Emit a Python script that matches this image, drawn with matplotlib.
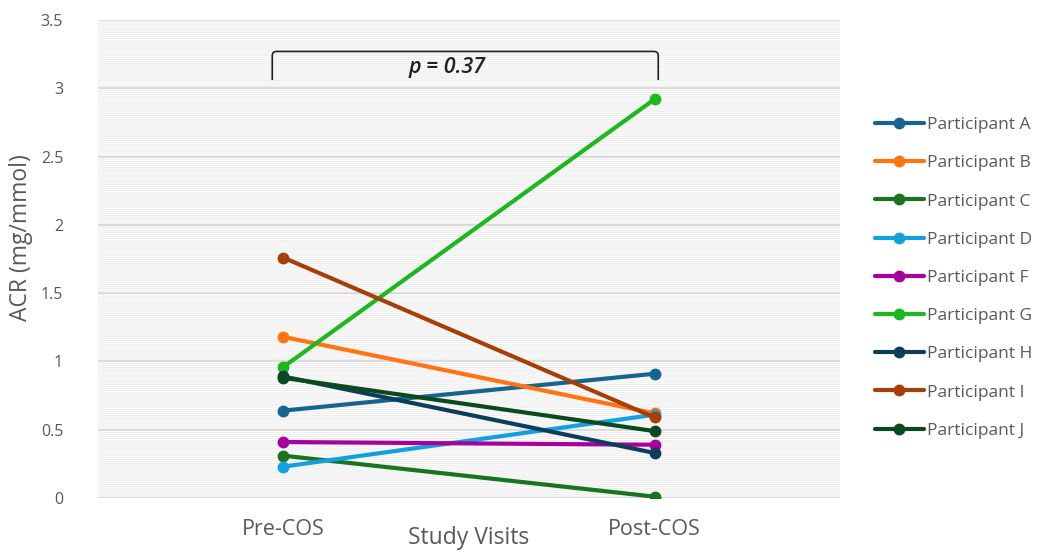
import matplotlib
matplotlib.use("Agg")
import matplotlib.pyplot as plt
from matplotlib.path import Path
from matplotlib.patches import PathPatch, Rectangle

visits = ["Pre-COS", "Post-COS"]
participants = ["Participant A", "Participant B", "Participant C", "Participant D",
                "Participant F", "Participant G", "Participant H", "Participant I",
                "Participant J"]
pre_cos = [0.64, 1.18, 0.31, 0.23, 0.41, 0.96, 0.89, 1.76, 0.88]
post_cos = [0.91, 0.62, 0.01, 0.61, 0.39, 2.92, 0.33, 0.59, 0.49]
colors = ["#186490", "#FF7410", "#19731F", "#12A1E0", "#A8009E",
          "#1DB81D", "#0C3E5C", "#A63F05", "#0B4A1C"]
yticks = [0, 0.5, 1, 1.5, 2, 2.5, 3, 3.5]
ytick_labels = ["0", "0.5", "1", "1.5", "2", "2.5", "3", "3.5"]
p_label = "p = 0.37"

plt.rcParams['font.family'] = ['Open Sans', 'DejaVu Sans']
plt.rcParams['hatch.color'] = "#e9e9e9"
plt.rcParams['hatch.linewidth'] = 0.5
text_gray = "#595959"

fig = plt.figure(figsize=(10.41, 5.5), dpi=100)
ax = fig.add_axes([0.094, 0.0945, 0.713, 0.8691])

# Finely hatched plot area background
ax.set_facecolor("#fbfbfb")
bg = Rectangle((0, 0), 1, 1, transform=ax.transAxes, facecolor="none",
               edgecolor="#e9e9e9", linewidth=0, hatch="--------", zorder=0)
ax.add_patch(bg)

ax.set_ylim(0, 3.5)
ax.set_xlim(-0.5, 1.5)
ax.set_yticks(yticks)
ax.set_yticklabels(ytick_labels)
ax.set_xticks(range(len(visits)))
ax.set_xticklabels(visits)
ax.grid(axis="y", color="#d9d9d9", linewidth=1.3, zorder=1)
ax.set_axisbelow(True)
for s in ax.spines.values():
    s.set_visible(False)
ax.tick_params(axis="both", length=0, labelcolor=text_gray)
ax.tick_params(axis="y", pad=25, labelsize=11.5)
ax.tick_params(axis="x", pad=15, labelsize=15.5)

xs = list(range(len(visits)))
handles = []
for name, a, b, c in zip(participants, pre_cos, post_cos, colors):
    h, = ax.plot(xs, [a, b], color=c, linewidth=3, marker="o", markersize=7.5,
                 solid_capstyle="round", label=name, zorder=3)
    handles.append(h)

ax.set_ylabel("ACR (mg/mmol)", fontsize=16.5, color=text_gray)
ax.yaxis.set_label_coords(-0.087, 0.544)
ax.set_xlabel("Study Visits", fontsize=16.5, color=text_gray)
ax.xaxis.set_label_coords(0.5, -0.058)

# Significance bracket
x0, x1, yb, yt = -0.03, 1.01, 3.06, 3.27
r = 0.012
verts = [(x0, yb), (x0, yt - 0.03), (x0, yt), (x0 + r, yt),
         (x1 - r, yt), (x1, yt), (x1, yt - 0.03), (x1, yb)]
codes = [Path.MOVETO, Path.LINETO, Path.CURVE3, Path.CURVE3,
         Path.LINETO, Path.CURVE3, Path.CURVE3, Path.LINETO]
ax.add_patch(PathPatch(Path(verts, codes), facecolor="none", edgecolor="#222222",
                       linewidth=1.2, zorder=4))
ax.text(0.44, 3.155, p_label, ha="center", va="center", fontsize=15.5,
        style="italic", weight="semibold", color="#222222", zorder=4)

fig.legend(handles=handles, loc="upper left", bbox_to_anchor=(0.834, 0.80),
           frameon=False, fontsize=12.5, labelcolor=text_gray, handlelength=2.8,
           handletextpad=0.2, labelspacing=1.27, borderaxespad=0)

fig.savefig("out.png", dpi=100)
